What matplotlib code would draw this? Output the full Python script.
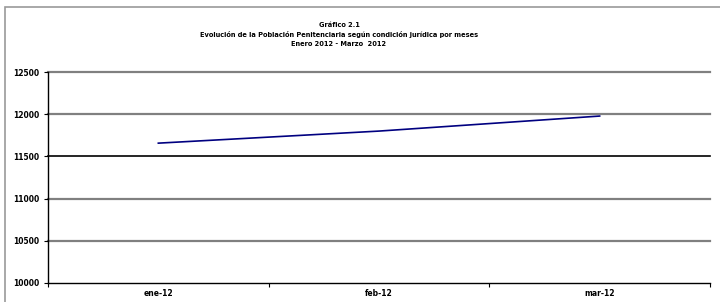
import matplotlib
matplotlib.use("Agg")
import matplotlib.pyplot as plt
from matplotlib.patches import Rectangle

months = ["ene-12", "feb-12", "mar-12"]
values = [11657, 11800, 11978]
yticks = [10000, 10500, 11000, 11500, 12000, 12500]
title_lines = ["Gráfico 2.1",
               "Evolución de la Población Penitenciaria según condición jurídica por meses",
               "Enero 2012 - Marzo  2012"]

fig = plt.figure(figsize=(7.2, 3.02), dpi=100)
fig.patches.append(Rectangle((5/720, -0.05), 1.0, (302-7)/302 + 0.05, transform=fig.transFigure,
                             fill=False, edgecolor="#9a9a9a", lw=1.2))
ax = fig.add_axes([48/720, (302-283)/302, (710-48)/720, (283-72)/302])

x = list(range(len(months)))
ax.plot(x, values, color="#000080", lw=1.2)
ax.set_xlim(-0.5, len(months) - 0.5)
ax.set_ylim(10000, 12500)

for v in yticks[1:]:
    ax.axhline(v, color="black" if v == 11500 else "#808080",
               lw=1.2 if v == 11500 else 1.6, zorder=0, clip_on=False)

ax.set_yticks(yticks)
ax.set_yticklabels([str(v) for v in yticks], fontsize=5.5, fontweight="bold")
ax.set_xticks(x)
ax.set_xticklabels(months, fontsize=5.5, fontweight="bold")
ax.set_xticks([-0.5 + i for i in range(len(months) + 1)], minor=True)
ax.tick_params(axis="x", which="major", length=0, pad=4)
ax.tick_params(axis="x", which="minor", length=3, width=0.8, direction="out")
ax.tick_params(axis="y", length=3, width=0.8, direction="out", pad=3)
for s in ["top", "right"]:
    ax.spines[s].set_visible(False)
ax.spines["left"].set_linewidth(1.0)
ax.spines["bottom"].set_linewidth(1.0)

ys = [25, 35, 44]
for t, yy in zip(title_lines, ys):
    fig.text(339/720, 1 - yy / 302, t, ha="center", va="center",
             fontsize=4.8, fontweight="bold")

fig.savefig("out.png", dpi=100)
